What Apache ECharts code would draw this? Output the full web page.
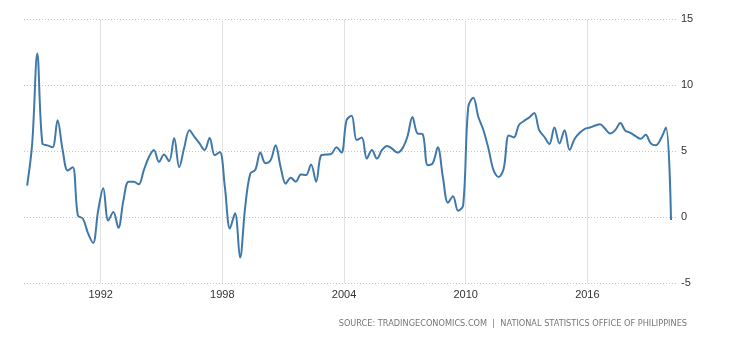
<!DOCTYPE html>
<html>
<head>
<meta charset="utf-8">
<script src="https://cdn.jsdelivr.net/npm/echarts@6/dist/echarts.min.js"></script>
<style>html,body{margin:0;padding:0;background:#fff;}#c{width:730px;height:340px;}</style>
</head>
<body>
<div id="c"></div>
<script>
// Quarterly periods, 1988 Q2 to 2020 Q1
const quarters = [
  '1988Q2','1988Q3','1988Q4',
  '1989Q1','1989Q2','1989Q3','1989Q4','1990Q1','1990Q2','1990Q3','1990Q4',
  '1991Q1','1991Q2','1991Q3','1991Q4','1992Q1','1992Q2','1992Q3','1992Q4',
  '1993Q1','1993Q2','1993Q3','1993Q4','1994Q1','1994Q2','1994Q3','1994Q4',
  '1995Q1','1995Q2','1995Q3','1995Q4','1996Q1','1996Q2','1996Q3','1996Q4',
  '1997Q1','1997Q2','1997Q3','1997Q4','1998Q1','1998Q2','1998Q3','1998Q4',
  '1999Q1','1999Q2','1999Q3','1999Q4','2000Q1','2000Q2','2000Q3','2000Q4',
  '2001Q1','2001Q2','2001Q3','2001Q4','2002Q1','2002Q2','2002Q3','2002Q4',
  '2003Q1','2003Q2','2003Q3','2003Q4','2004Q1','2004Q2','2004Q3','2004Q4',
  '2005Q1','2005Q2','2005Q3','2005Q4','2006Q1','2006Q2','2006Q3','2006Q4',
  '2007Q1','2007Q2','2007Q3','2007Q4','2008Q1','2008Q2','2008Q3','2008Q4',
  '2009Q1','2009Q2','2009Q3','2009Q4','2010Q1','2010Q2','2010Q3','2010Q4',
  '2011Q1','2011Q2','2011Q3','2011Q4','2012Q1','2012Q2','2012Q3','2012Q4',
  '2013Q1','2013Q2','2013Q3','2013Q4','2014Q1','2014Q2','2014Q3','2014Q4',
  '2015Q1','2015Q2','2015Q3','2015Q4','2016Q1','2016Q2','2016Q3','2016Q4',
  '2017Q1','2017Q2','2017Q3','2017Q4','2018Q1','2018Q2','2018Q3','2018Q4',
  '2019Q1','2019Q2','2019Q3','2019Q4','2020Q1'
];
// GDP annual growth rate (%)
const growth = [
  2.4, 5.6, 12.4,
  5.6, 5.45, 5.3, 7.35, 5.1, 3.55, 3.8, 0.15,
  -0.1, -1.2, -1.95, 0.5, 2.2, -0.25, 0.4, -0.8,
  1.3, 2.7, 2.7, 2.5, 3.55, 4.55, 5.1, 4.2,
  4.75, 4.25, 6.0, 3.8, 5.3, 6.6, 6.1, 5.6,
  5.1, 6.0, 4.7, 4.95, 2.3, -0.85, 0.3, -3.05,
  0.75, 3.3, 3.6, 4.9, 4.1, 4.3, 5.45, 3.8,
  2.55, 3.0, 2.7, 3.25, 3.2, 4.0, 2.7, 4.7,
  4.75, 4.8, 5.3, 4.9, 7.35, 7.7, 5.85, 6.05,
  4.45, 5.1, 4.45, 5.1, 5.4, 5.2, 4.9, 5.2,
  6.1, 7.6, 6.35, 6.3, 3.95, 4.1, 5.3, 3.05,
  1.1, 1.6, 0.5, 0.9, 8.35, 9.05, 7.6, 6.6,
  5.2, 3.55, 3.05, 3.7, 6.2, 6.05, 7.0, 7.3,
  7.55, 7.9, 6.6, 6.1, 5.55, 6.8, 5.6, 6.6,
  5.1, 5.95, 6.4, 6.7, 6.8, 6.95, 7.05, 6.7,
  6.35, 6.6, 7.15, 6.55, 6.4, 6.15, 5.95, 6.25,
  5.6, 5.45, 5.95, 6.8, -0.2
];
const xTickYears = [1992, 1998, 2004, 2010, 2016];
const yTicks = [-5, 0, 5, 10, 15];
const sourceText = 'SOURCE: TRADINGECONOMICS.COM  |  NATIONAL STATISTICS OFFICE OF PHILIPPINES';

// place each quarter at its mid-point in time
const seriesData = quarters.map((q, i) => {
  const yr = parseInt(q.slice(0, 4), 10);
  const qn = parseInt(q.slice(5), 10);
  return [yr + (qn - 1) / 4 + 0.125, growth[i]];
});

const chart = echarts.init(document.getElementById('c'), null, {renderer: 'canvas'});
chart.setOption({
  animation: false,
  backgroundColor: '#ffffff',
  textStyle: {fontFamily: 'Liberation Sans, Arial, sans-serif'},
  grid: {left: 24, right: 53, top: 19.3, bottom: 56.7, containLabel: false},
  xAxis: {
    type: 'value',
    min: 1988.22,
    max: 2020.42,
    axisLine: {show: false},
    axisTick: {show: false, customValues: xTickYears},
    axisLabel: {
      customValues: xTickYears,
      color: '#333',
      fontSize: 11,
      margin: 6,
      formatter: v => String(Math.round(v))
    },
    splitLine: {show: true, lineStyle: {color: '#e2e2e2', width: 1, type: 'solid'}}
  },
  yAxis: {
    type: 'value',
    position: 'right',
    min: yTicks[0],
    max: yTicks[yTicks.length - 1],
    interval: 5,
    axisLine: {show: false},
    axisTick: {show: false},
    axisLabel: {color: '#333', fontSize: 11, margin: 4},
    splitLine: {show: true, lineStyle: {color: '#c4c4c4', width: 1, type: [1, 2]}}
  },
  series: [{
    type: 'line',
    data: seriesData,
    smooth: 0.35,
    showSymbol: false,
    lineStyle: {color: '#4079a9', width: 2},
    itemStyle: {color: '#4079a9'}
  }],
  graphic: [{
    type: 'text',
    right: 43,
    top: 320,
    style: {
      text: sourceText,
      fill: '#777',
      font: '8.2px "DejaVu Sans", sans-serif'
    }
  }]
});
</script>
</body>
</html>
